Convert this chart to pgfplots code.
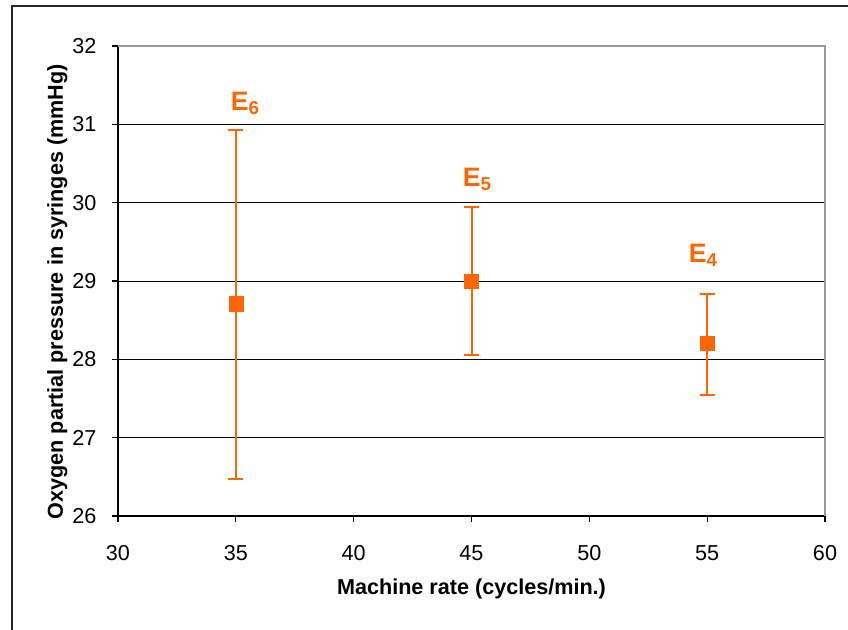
\documentclass[border=0pt]{standalone}
\usepackage{fontspec}
\setmainfont{Liberation Sans}
\usepackage{pgfplots}
\pgfplotsset{compat=1.18}
\definecolor{orng}{HTML}{FF6600}
\pgfplotstableread{
x y ep em
35 28.71 2.22 2.24
45 29.00 0.95 0.95
55 28.20 0.63 0.65
}\datatable
\newcommand{\elab}[1]{E\raisebox{-3pt}{\fontsize{14}{16}\selectfont #1}}
\begin{document}
\begin{tikzpicture}[x=0.75pt,y=0.75pt]
\useasboundingbox (-118,-114) rectangle (730,516);
\draw[line width=1.5pt, black!85] (-106,-130) -- (-106,510) -- (740,510);
\begin{axis}[at={(0,0)}, anchor=south west, scale only axis,
 width=530.25pt, height=352.5pt,
 xmin=30, xmax=60, ymin=26, ymax=32,
 xtick={30,35,...,60}, ytick={26,27,...,32},
 axis x line*=bottom, axis y line*=left,
 axis line style={black, line width=1pt, -},
 ymajorgrids, grid style={black, line width=0.6pt},
 tick align=outside, major tick length=4.5pt,
 tick style={black, line width=0.8pt},
 /pgf/number format/assume math mode=true,
 tick label style={font=\fontsize{16.2}{19}\selectfont},
 xticklabel style={anchor=north, inner sep=0pt, yshift=-17.5pt},
 yticklabel style={anchor=east, inner sep=0pt, xshift=-11.5pt},
 xlabel={Machine rate (cycles/min.)},
 ylabel={Oxygen partial pressure in syringes (mmHg)},
 label style={font=\bfseries\fontsize{16.2}{19}\selectfont},
 xlabel style={at={(axis description cs:0.5,-0.155)}, anchor=center},
 ylabel style={at={(axis description cs:-0.0857,0.477)}, anchor=center, rotate=0},
 clip=false,
]
\addplot[only marks, orng, mark=square*, mark size=5.3pt,
  mark options={draw=orng, fill=orng},
  error bars/.cd, y dir=both, y explicit,
  error bar style={line width=1.5pt, draw=orng},
  error mark options={rotate=90, mark size=5.7pt, line width=1.5pt, draw=orng}]
  table[x=x, y=y, y error plus=ep, y error minus=em] {\datatable};
\node[orng, font=\bfseries\fontsize{20}{24}\selectfont, anchor=base] at (axis cs:35.39,31.18) {\elab{6}};
\node[orng, font=\bfseries\fontsize{20}{24}\selectfont, anchor=base] at (axis cs:45.23,30.21) {\elab{5}};
\node[orng, font=\bfseries\fontsize{20}{24}\selectfont, anchor=base] at (axis cs:54.82,29.23) {\elab{4}};
\draw[black!40, line width=1.6pt] (rel axis cs:0,1) -- (rel axis cs:1,1) -- (rel axis cs:1,0);
\end{axis}
\end{tikzpicture}
\end{document}
